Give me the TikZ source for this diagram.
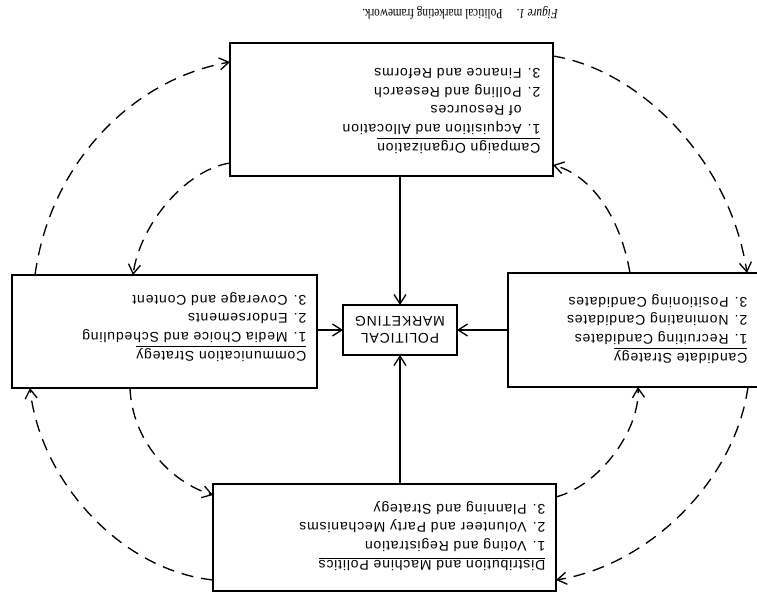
\documentclass[tikz,border=0pt]{standalone}
\usepackage{fontspec}
\setmainfont{Liberation Serif}
\setsansfont{Liberation Sans}
\newfontfamily\boxfont[LetterSpace=6]{Liberation Sans}
\newfontfamily\capfont[FakeStretch=0.8]{Liberation Serif}
\usetikzlibrary{arrows.meta,calc}

\tikzset{every picture/.style={line width=1pt}}
\tikzset{
	box/.style={draw, inner sep=0pt, outer sep=0pt},
	boxtext/.style={rotate=180, anchor=north west, inner sep=0pt, align=left, font=\boxfont\fontsize{10.5}{14}\selectfont},
	flow/.style={-{Straight Barb[length=7pt,width=9pt]}},
	cycle/.style={flow, dash pattern={on 9pt off 6pt}}
}

\begin{document}
\begin{tikzpicture}[x=0.75pt,y=0.75pt,yscale=-1,xscale=1]
	\useasboundingbox (0,0) rectangle (757,595);
	\clip (0,0) rectangle (757,595);
	
	% Boxes
	\node[box, minimum width=242.25pt, minimum height=99.75pt] (campaign) at (391.5,109.5) {};
	\node[box, minimum width=228.75pt, minimum height=84.75pt] (comm) at (164.5,331.5) {};
	\node[box, minimum width=193.5pt, minimum height=85.5pt] (cand) at (637,330) {};
	\node[box, minimum width=257.25pt, minimum height=80.25pt] (distrib) at (384.5,537.5) {};
	\node[box, minimum width=85.5pt, minimum height=37.5pt] (pm) at (400,330) {};
	
	% Text Node
	\node[rotate=180, align=center, inner sep=0pt, font=\boxfont\fontsize{10.5}{12.5}\selectfont] (pmtext) at (pm.center) {POLITICAL\\MARKETING};
	% Text Node
	\node[boxtext] (campaigntext) at (541,154) {\underline{Campaign Organization}\\1. Acquisition and Allocation\\\hphantom{1. }of Resources\\2. Polling and Research\\3. Finance and Reforms};
	% Text Node
	\node[boxtext] (commtext) at (307,362) {\underline{Communication Strategy}\\1. Media Choice and Scheduling\\2. Endorsements\\3. Coverage and Content};
	% Text Node
	\node[boxtext] (candtext) at (748,364) {\underline{Candidate Strategy}\\1. Recruiting Candidates\\2. Nominating Candidates\\3. Positioning Candidates};
	% Text Node
	\node[boxtext] (distribtext) at (546,571) {\underline{Distribution and Machine Politics}\\1. Voting and Registration\\2. Volunteer and Party Mechanisms\\3. Planning and Strategy};
	% Text Node
	\node[rotate=180, inner sep=0pt, font=\capfont\fontsize{10.5}{12}\selectfont] (caption) at (460,13) {\textit{Figure 1.}\quad Political marketing framework.};
	
	% Straight Lines
	\draw[flow] (campaign.south -| pm.north) -- (pm.north);
	\draw[flow] (cand.west |- pm.east) -- (pm.east);
	\draw[flow] (comm.east |- pm.west) -- (pm.west);
	\draw[flow] (distrib.north -| pm.south) -- (pm.south);
	
	% Curve Lines, outer loop
	\draw[cycle] ($(comm.north west)+(23,0)$) .. controls (50,165) and (130,80) .. ($(campaign.north west)+(0,19)$);
	\draw[cycle] ($(campaign.north east)+(0,13)$) .. controls (640,70) and (730,160) .. ($(cand.north west)+(239,0)$);
	\draw[cycle] ($(cand.south west)+(240,0)$) .. controls (735,480) and (650,565) .. ($(distrib.south east)+(0,-11)$);
	\draw[cycle] ($(distrib.south west)+(0,-11)$) .. controls (120,570) and (40,480) .. ($(comm.south west)+(18,0)$);
	% Curve Lines, inner loop
	\draw[cycle] ($(cand.north west)+(122,0)$) .. controls (620,215) and (590,175) .. ($(campaign.south east)+(0,-11)$);
	\draw[cycle] ($(campaign.south west)+(0,-13)$) .. controls (185,170) and (140,225) .. ($(comm.north west)+(121,0)$);
	\draw[cycle] ($(comm.south west)+(118,0)$) .. controls (132,440) and (170,482) .. ($(distrib.north west)+(0,11)$);
	\draw[cycle] ($(distrib.north east)+(0,13)$) .. controls (600,485) and (640,430) .. ($(cand.south west)+(130,0)$);
	
\end{tikzpicture}
\end{document}
